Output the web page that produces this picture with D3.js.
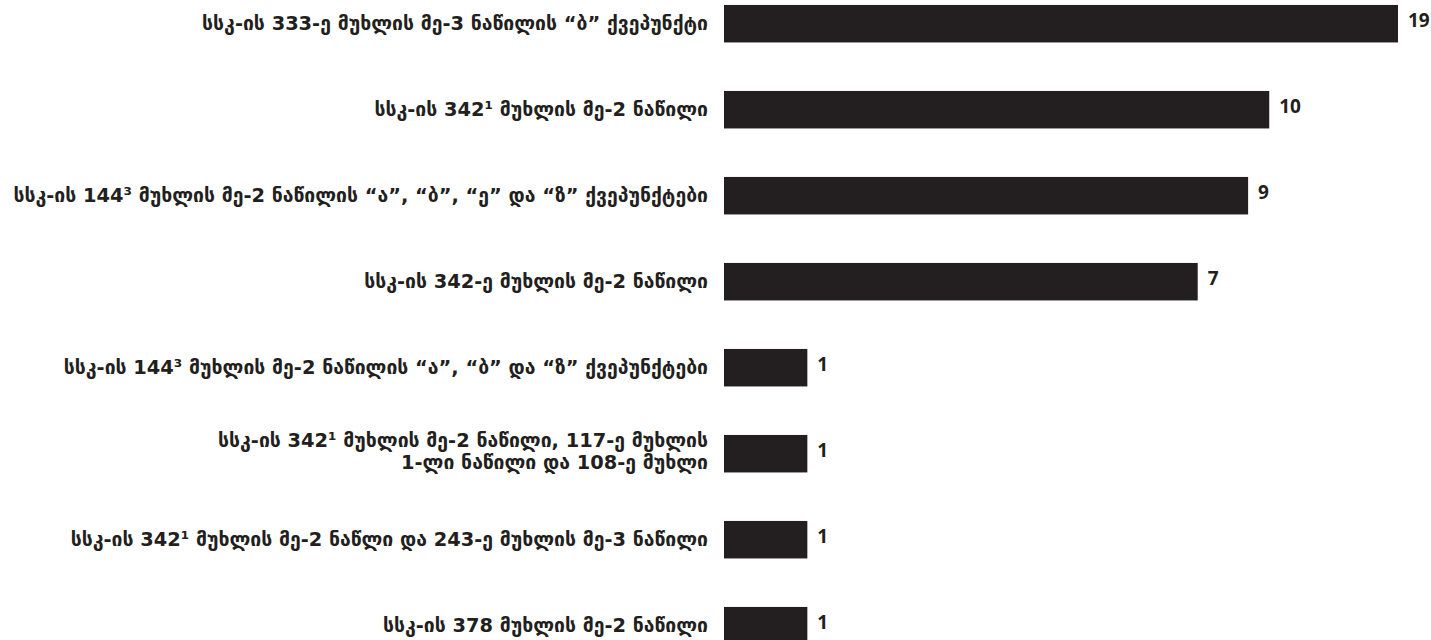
<html>
<head>
  <meta charset="utf-8">
  <title>სსკ მუხლები</title>
  <style>
    body {
        margin: 0;
        background: #fff;
    }
    .label {
        font-family: "DejaVu Sans", sans-serif;
        font-weight: bold;
        fill: #231f20;
    }
    .value {
        font-family: "Open Sans", sans-serif;
        font-weight: bold;
        font-size: 19px;
        fill: #231f20;
    }
  </style>
  <script src="https://d3js.org/d3.v7.min.js"></script>
</head>
<body>
  <div id="chart"></div>
  <script>
    // categories (top to bottom), "\n" splits a label over two lines
    var categories = [
      "სსკ-ის 333-ე მუხლის მე-3 ნაწილის “ბ” ქვეპუნქტი",
      "სსკ-ის 342¹ მუხლის მე-2 ნაწილი",
      "სსკ-ის 144³ მუხლის მე-2 ნაწილის “ა”, “ბ”, “ე” და “ზ” ქვეპუნქტები",
      "სსკ-ის 342-ე მუხლის მე-2 ნაწილი",
      "სსკ-ის 144³ მუხლის მე-2 ნაწილის “ა”, “ბ” და “ზ” ქვეპუნქტები",
      "სსკ-ის 342¹ მუხლის მე-2 ნაწილი, 117-ე მუხლის\n1-ლი ნაწილი და 108-ე მუხლი",
      "სსკ-ის 342¹ მუხლის მე-2 ნაწლი და 243-ე მუხლის მე-3 ნაწილი",
      "სსკ-ის 378 მუხლის მე-2 ნაწილი"
    ];
    var values = [19, 10, 9, 7, 1, 1, 1, 1];

    var width = 1431, height = 640;
    var barLeft = 724;

    var svg = d3.select("#chart").append("svg")
        .attr("width", width)
        .attr("height", height);

    // bar lengths in the picture follow a log-like scale
    var x = d3.scaleLog()
        .domain([0.66, 19])
        .range([barLeft, 1398]);

    var y = d3.scaleBand()
        .domain(categories)
        .range([-19.3, 668.7])
        .paddingInner(0.564)
        .paddingOuter(0.282);

    var data = categories.map(function(c, i) { return { cat: c, value: values[i] }; });

    // bars
    svg.selectAll(".bar")
        .data(data)
        .enter().append("rect")
        .attr("class", "bar")
        .attr("x", barLeft)
        .attr("y", function(d) { return y(d.cat); })
        .attr("width", function(d) { return x(d.value) - barLeft; })
        .attr("height", y.bandwidth())
        .attr("fill", "#231f20");

    // value labels
    svg.selectAll(".value")
        .data(data)
        .enter().append("text")
        .attr("class", "value")
        .attr("x", function(d) { return x(d.value) + 10; })
        .attr("y", function(d) { return y(d.cat) + y.bandwidth() / 2 - 3; })
        .attr("dy", ".35em")
        .text(function(d) { return d.value; });

    // category labels
    var labels = svg.selectAll(".label")
        .data(data)
        .enter().append("text")
        .attr("class", "label")
        .attr("font-size", 19.4)
        .attr("text-anchor", "end")
        .attr("y", function(d) { return y(d.cat) + y.bandwidth() / 2; });

    labels.each(function(d) {
        var lines = d.cat.split("\n");
        var t = d3.select(this);
        lines.forEach(function(line, j) {
            t.append("tspan")
                .attr("x", 708)
                .attr("dy", j === 0 ? ((0.3 - (lines.length - 1) * 0.62) + "em") : "1.12em")
                .text(line);
        });
    });
  </script>
</body>
</html>
